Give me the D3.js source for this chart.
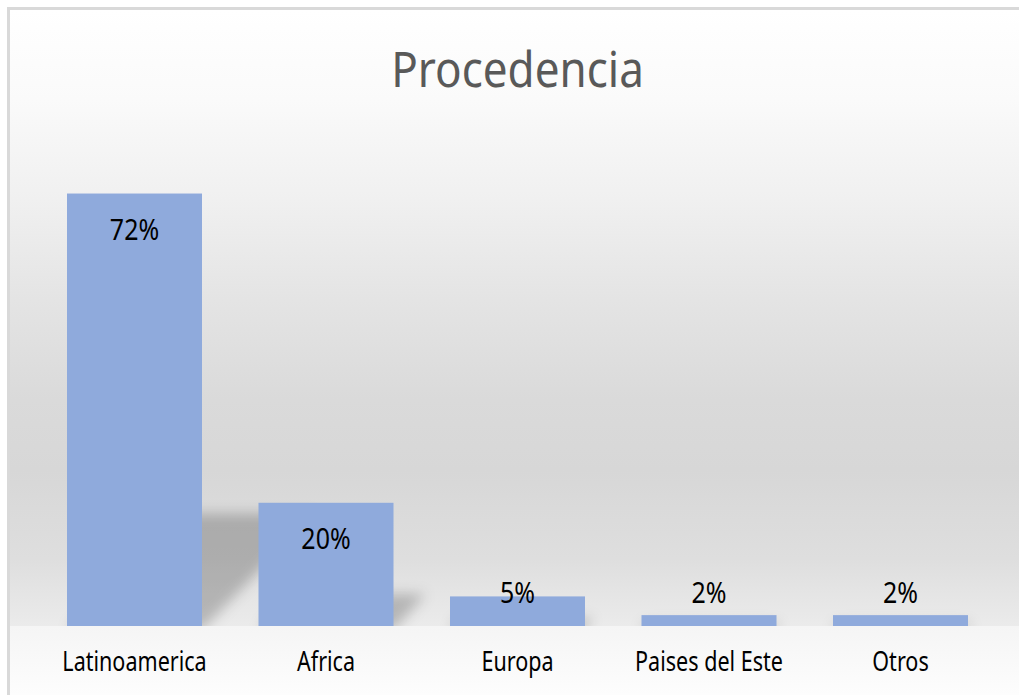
<!DOCTYPE html>
<html>
<head>
<meta charset="utf-8">
<script src="https://cdn.jsdelivr.net/npm/d3@7"></script>
<style>
  html, body { margin: 0; padding: 0; background: #ffffff; }
  svg { display: block; }
</style>
</head>
<body>
<svg id="chart" width="1019" height="695"></svg>
<script>
const titleText = "Procedencia";
const categories = ["Latinoamerica", "Africa", "Europa", "Paises del Este", "Otros"];
const values = [0.716, 0.204, 0.049, 0.018, 0.018];

const W = 1019, H = 695;
const baseY = 626;
const svg = d3.select("#chart");
const defs = svg.append("defs");

// background gradients
const g1 = defs.append("linearGradient").attr("id", "bgPlot")
  .attr("gradientUnits", "userSpaceOnUse").attr("x1", 0).attr("y1", 10).attr("x2", 0).attr("y2", baseY);
[[0, "#ffffff"], [0.146, "#fafafa"], [0.308, "#f0f0f0"], [0.47, "#e4e4e4"], [0.632, "#dadada"],
 [0.747, "#d7d7d7"], [0.89, "#dedede"], [1, "#ebebeb"]]
  .forEach(([o, c]) => g1.append("stop").attr("offset", o).attr("stop-color", c));
const g2 = defs.append("linearGradient").attr("id", "bgBottom")
  .attr("gradientUnits", "userSpaceOnUse").attr("x1", 0).attr("y1", baseY).attr("x2", 0).attr("y2", H);
[[0, "#f5f5f5"], [1, "#fdfdfd"]]
  .forEach(([o, c]) => g2.append("stop").attr("offset", o).attr("stop-color", c));

const blur = defs.append("filter").attr("id", "shadowBlur")
  .attr("x", "-50%").attr("y", "-50%").attr("width", "200%").attr("height", "200%");
blur.append("feGaussianBlur").attr("stdDeviation", 6.5);

const clip = defs.append("clipPath").attr("id", "plotClip");
clip.append("rect").attr("x", 10).attr("y", 10).attr("width", W - 10).attr("height", baseY - 10);

svg.append("rect").attr("x", 10).attr("y", 10).attr("width", W - 10).attr("height", baseY - 10)
  .attr("fill", "url(#bgPlot)");
svg.append("rect").attr("x", 10).attr("y", baseY).attr("width", W - 10).attr("height", H - baseY)
  .attr("fill", "url(#bgBottom)");

// frame
svg.append("rect").attr("x", 8.5).attr("y", 8.5).attr("width", W + 20).attr("height", H + 20)
  .attr("fill", "none").attr("stroke", "#d9d9d9").attr("stroke-width", 3);

// scales
const x = d3.scaleBand().domain(categories).range([38.75, 996.25])
  .paddingInner(0.295).paddingOuter(0.1475);
const y = d3.scaleLinear().domain([0, 0.8]).range([baseY, baseY - 0.8 * 604]);

const data = categories.map((c, i) => ({ cat: c, val: values[i] }));

// perspective shadows
const skew = 0.26;
svg.append("g").attr("clip-path", "url(#plotClip)")
  .append("g").attr("filter", "url(#shadowBlur)")
  .selectAll("polygon").data(data).join("polygon")
  .attr("points", d => {
    const x0 = x(d.cat), x1 = x(d.cat) + x.bandwidth();
    const h = (y(0) - y(d.val)) * skew;
    return [[x0, y(0) + 4], [x1, y(0) + 4], [x1 + h, y(0) - h], [x0 + h, y(0) - h]].map(p => p.join(",")).join(" ");
  })
  .attr("fill", "#000").attr("fill-opacity", 0.22);

// bars
svg.append("g").selectAll("rect").data(data).join("rect")
  .attr("x", d => x(d.cat))
  .attr("y", d => y(d.val))
  .attr("width", x.bandwidth())
  .attr("height", d => y(0) - y(d.val))
  .attr("fill", "#8faadc");

function squeeze(sel, factor) {
  sel.each(function () {
    const len = this.getComputedTextLength();
    d3.select(this).attr("textLength", len * factor).attr("lengthAdjust", "spacingAndGlyphs");
  });
}

const fmt = d3.format(".0%");
// data labels
svg.append("g").selectAll("text").data(data).join("text")
  .attr("x", d => x(d.cat) + x.bandwidth() / 2)
  .attr("y", d => Math.min(y(d.val) + 46.7, 603))
  .attr("text-anchor", "middle")
  .attr("font-family", "Noto Sans, sans-serif")
  .attr("font-size", 29)
  .attr("fill", "#000000")
  .text(d => fmt(d.val))
  .call(squeeze, 0.86);

// category axis labels
const xAxis = d3.axisBottom(x).tickSize(0).tickPadding(0);
const axG = svg.append("g").attr("transform", `translate(0, ${baseY})`).call(xAxis);
axG.select(".domain").remove();
axG.selectAll("text")
  .attr("y", 670.7 - baseY).attr("dy", null)
  .attr("font-family", "Noto Sans, sans-serif")
  .attr("font-size", 26.6)
  .attr("fill", "#000000")
  .call(squeeze, 0.81);

// title
svg.append("text")
  .attr("x", 517.5).attr("y", 87.3)
  .attr("text-anchor", "middle")
  .attr("font-family", "Noto Sans, sans-serif")
  .attr("font-size", 50)
  .attr("fill", "#595959")
  .text(titleText)
  .call(squeeze, 0.88);
</script>
</body>
</html>
